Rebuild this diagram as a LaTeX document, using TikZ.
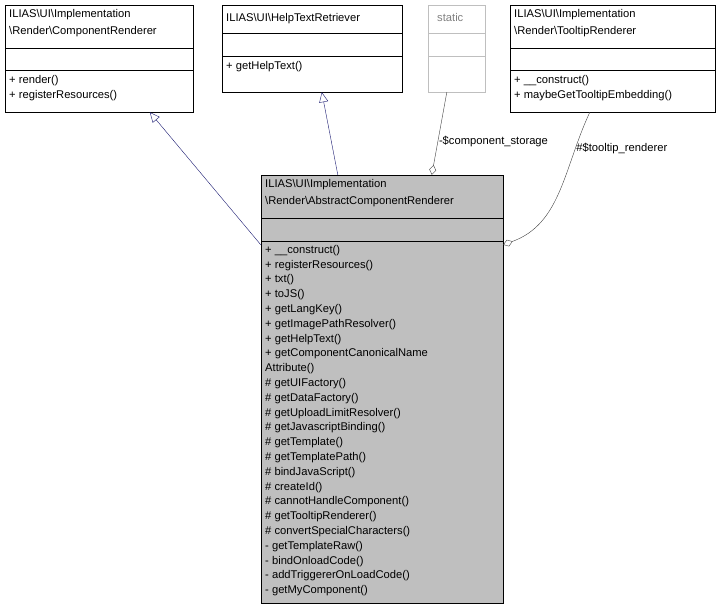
\documentclass[tikz,border=0pt]{standalone}
\usepackage{fontspec}
\setmainfont{Liberation Sans}
\usetikzlibrary{arrows.meta,calc}
\tikzset{
  box/.style={shape=rectangle, draw, inner sep=0pt},
  txt/.style={anchor=north west, align=left, inner sep=0pt, font=\fontsize{11.2}{14.8}\selectfont},
  ttl/.style={txt, font=\fontsize{11.2}{17}\selectfont},
  gen/.style={draw={rgb,255:red,25;green,25;blue,112}, -{Triangle[open,length=10pt,width=9pt]}},
  use/.style={draw={rgb,255:red,64;green,64;blue,64}, -{Diamond[open,length=10pt,width=7pt]}},
  lbl/.style={font=\fontsize{11.2}{13}\selectfont, inner sep=1pt}
}
\begin{document}
\begin{tikzpicture}[x=1pt, y=-1pt]
\useasboundingbox (0,0) rectangle (722,609);
% classes
\node [box, minimum width=188pt, minimum height=107pt] (CR) at (99,58.5) {};
\draw (5,48) -- (193,48) (5,70) -- (193,70);
\node [ttl] (CRt) at (9,9) {ILIAS\textbackslash UI\textbackslash Implementation\\\textbackslash Render\textbackslash ComponentRenderer};
\node [txt] (CRm) at (9,75) {+ render()\\+ registerResources()};

\node [box, minimum width=180pt, minimum height=87pt] (HT) at (312,48.5) {};
\draw (222,33) -- (402,33) (222,56) -- (402,56);
\node [txt] (HTt) at (226,13) {ILIAS\textbackslash UI\textbackslash HelpTextRetriever};
\node [txt] (HTm) at (226,61) {+ getHelpText()};

\node [box, draw={rgb,255:red,191;green,191;blue,191}, minimum width=57pt, minimum height=87pt] (ST) at (456.5,48.5) {};
\draw [draw={rgb,255:red,191;green,191;blue,191}] (428,33) -- (485,33) (428,56) -- (485,56);
\node [txt, text={rgb,255:red,128;green,128;blue,128}] (STt) at (437,13) {static};

\node [box, minimum width=205pt, minimum height=107pt] (TT) at (612.5,58.5) {};
\draw (510,48) -- (715,48) (510,70) -- (715,70);
\node [ttl] (TTt) at (514,9) {ILIAS\textbackslash UI\textbackslash Implementation\\\textbackslash Render\textbackslash TooltipRenderer};
\node [txt] (TTm) at (514,75) {+ \_\_construct()\\+ maybeGetTooltipEmbedding()};

\node [box, fill={rgb,255:red,191;green,191;blue,191}, minimum width=242pt, minimum height=428pt] (ACR) at (382,389) {};
\draw (261,218) -- (503,218) (261,241) -- (503,241);
\node [ttl] (ACRt) at (265,179) {ILIAS\textbackslash UI\textbackslash Implementation\\\textbackslash Render\textbackslash AbstractComponentRenderer};
\node [txt] (ACRm) at (265,245) {+ \_\_construct()\\+ registerResources()\\+ txt()\\+ toJS()\\+ getLangKey()\\+ getImagePathResolver()\\+ getHelpText()\\+ getComponentCanonicalName\\Attribute()\\\# getUIFactory()\\\# getDataFactory()\\\# getUploadLimitResolver()\\\# getJavascriptBinding()\\\# getTemplate()\\\# getTemplatePath()\\\# bindJavaScript()\\\# createId()\\\# cannotHandleComponent()\\\# getTooltipRenderer()\\\# convertSpecialCharacters()\\- getTemplateRaw()\\- bindOnloadCode()\\- addTriggererOnLoadCode()\\- getMyComponent()};

% relations
\draw [gen] ($(ACR.north west)+(0,70)$) -- ($(CR.south west)+(145,0)$);
\draw [gen] ($(ACR.north west)+(77,0)$) -- ($(HT.south west)+(100,0)$);
\draw [use] ($(ST.south west)+(19,0)$) -- node [lbl, right, pos=0.6] {-\$component\_storage} ($(ACR.north west)+(171,0)$);
\draw [use] ($(TT.south west)+(80,0)$) to [out=-115, in=20] node [lbl, pos=0.22, right] {\#\$tooltip\_renderer} ($(ACR.north east)+(0,70)$);
\end{tikzpicture}
\end{document}
